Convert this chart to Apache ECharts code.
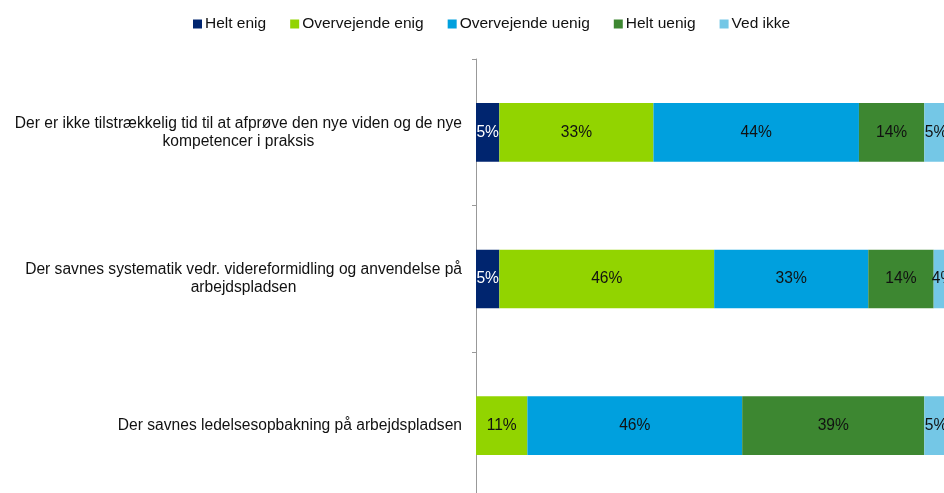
<!DOCTYPE html>
<html>
<head>
<meta charset="utf-8">
<script src="https://cdn.jsdelivr.net/npm/echarts@6/dist/echarts.min.js"></script>
<style>
  html, body { margin: 0; padding: 0; background: #fff; }
  #chart { width: 944px; height: 493px; }
</style>
</head>
<body>
<div id="chart"></div>
<script>
// Survey statements (top to bottom)
const categories = [
  'Der er ikke tilstrækkelig tid til at afprøve den nye viden og de nye\nkompetencer i praksis',
  'Der savnes systematik vedr. videreformidling og anvendelse på\narbejdspladsen',
  'Der savnes ledelsesopbakning på arbejdspladsen'
];

// Answer shares in percent, one array per answer option
const heltEnig = [5, 5, null];
const overvejendeEnig = [33, 46, 11];
const overvejendeUenig = [44, 33, 46];
const heltUenig = [14, 14, 39];
const vedIkke = [5, 4, 5];

const seriesNames = ['Helt enig', 'Overvejende enig', 'Overvejende uenig', 'Helt uenig', 'Ved ikke'];
const seriesData = [heltEnig, overvejendeEnig, overvejendeUenig, heltUenig, vedIkke];
const seriesColors = ['#00256F', '#92D400', '#00A0DE', '#3D8731', '#74C7E6'];
const labelColors = ['#ffffff', '#111111', '#111111', '#111111', '#111111'];

const FONT = '"Liberation Sans", Arial, sans-serif';
const FS = 15.6;

const chart = echarts.init(document.getElementById('chart'), null, { renderer: 'canvas' });

chart.setOption({
  animation: false,
  backgroundColor: '#ffffff',
  textStyle: { fontFamily: FONT },
  legend: {
    data: seriesNames,
    left: 193,
    top: 16,
    padding: 0,
    icon: 'rect',
    itemWidth: 9,
    itemHeight: 9,
    itemGap: 24,
    textStyle: { fontFamily: FONT, fontSize: 15.5, color: '#111111', padding: [0, 0, 0, -2] }
  },
  grid: {
    left: 476,
    top: 59,
    width: 467,
    height: 440,
    outerBoundsMode: 'none',
    containLabel: false
  },
  xAxis: {
    type: 'value',
    min: 0,
    max: 100,
    show: false
  },
  yAxis: {
    type: 'category',
    data: categories,
    inverse: true,
    axisLine: { show: true, lineStyle: { color: '#999999', width: 1 } },
    axisTick: { show: true, length: 4, lineStyle: { color: '#999999' } },
    axisLabel: {
      margin: 14,
      align: 'right',
      fontFamily: FONT,
      fontSize: FS,
      color: '#111111',
      lineHeight: 18,
      formatter: function (v) {
        return v.split('\n').map(function (l) { return '{c|' + l + '}'; }).join('\n');
      },
      rich: {
        c: { align: 'center', fontFamily: FONT, fontSize: FS, color: '#111111', lineHeight: 18 }
      }
    }
  },
  series: seriesNames.map(function (name, i) {
    return {
      name: name,
      type: 'bar',
      stack: 'total',
      clip: false,
      data: seriesData[i],
      barCategoryGap: '60%',
      itemStyle: { color: seriesColors[i] },
      label: {
        show: true,
        position: 'inside',
        fontFamily: FONT,
        fontSize: FS,
        color: labelColors[i],
        formatter: function (p) { return p.value == null ? '' : p.value + '%'; }
      }
    };
  })
});
</script>
</body>
</html>
